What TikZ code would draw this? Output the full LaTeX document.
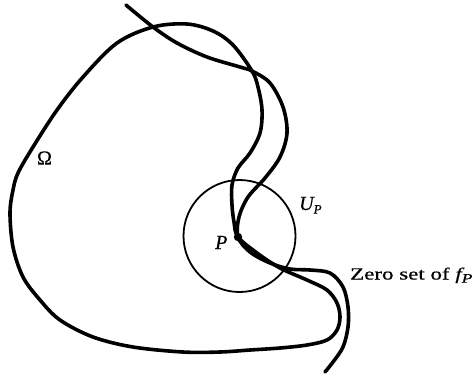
\documentclass[tikz,border=0pt]{standalone}
\usepackage{graphicx}
\usepackage{fontspec}
\setmainfont{Liberation Serif}
\newfontfamily\figfont[FakeBold=0.5]{Liberation Serif}
\newcommand{\subP}{\raisebox{-0.4ex}{\fontsize{13}{13}\selectfont\itshape P}}
\begin{document}
\begin{tikzpicture}[x=1pt,y=-1pt,
  curve/.style={line width=3.6pt, line join=round, line cap=round},
  disc/.style={line width=1.8pt},
  lbl/.style={font=\figfont\fontsize{20}{24}\selectfont, inner sep=0pt}]
\useasboundingbox (0,0) rectangle (476,376);
\coordinate (P) at (238,237);
\coordinate (C) at (239.5,236);
% neighbourhood U_P
\draw[disc] (C) circle (56);
% boundary of Omega
\draw[curve] plot[smooth cycle, tension=0.55] coordinates {
  (187,24) (213,31) (233,45) (252,71) (258,87) (262,110) (260,133)
  (250,153) (238,168) (232,185) (232,205) (234,222) (238,237)
  (257,253) (280,268) (307,280) (327,290) (337,303) (340,317)
  (337,330) (327,340) (307,345) (280,348) (250,350) (220,352)
  (183,352) (133,347) (93,337) (60,320) (40,300) (23,277) (13,247)
  (10,213) (13,190) (18,173) (33,147) (57,110) (83,77) (117,43) (153,27)};
% zero set of f_P
\draw[curve] plot[smooth, tension=0.55] coordinates {
  (126,5) (153,27) (177,43) (207,57) (240,67) (252,71) (270,83)
  (283,107) (287,133) (280,157) (265,178) (248,197) (239,217) (238,237)
  (250,252) (270,263) (290,269) (310,270) (330,273) (343,287)
  (348,307) (348,327) (343,347) (333,362) (325,372)};
\fill (P) circle (4.2);
\node[lbl] (omega) at (44.5,158) {Ω};
\node[lbl, anchor=base west] (up) at (299,210) {\itshape U\subP};
\node[lbl, anchor=base west] (p) at (215,249) {\itshape P};
\node[anchor=base west, inner sep=0pt] (zs) at (350,279.5)
  {\scalebox{1.35}[1]{\figfont\fontsize{17}{20}\selectfont Zero set of {\itshape f}\subP}};
\end{tikzpicture}
\end{document}
